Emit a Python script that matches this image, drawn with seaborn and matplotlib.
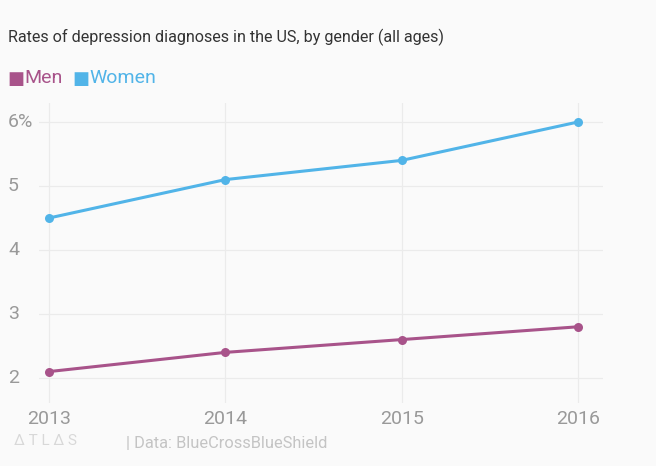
import pandas as pd
import seaborn as sns
import matplotlib.pyplot as plt
from matplotlib.transforms import blended_transform_factory

years = [2013, 2014, 2015, 2016]
men = [2.1, 2.4, 2.6, 2.8]
women = [4.5, 5.1, 5.4, 6.0]
y_ticks = [2, 3, 4, 5, 6]
y_tick_labels = ["2", "3", "4", "5", "6%"]

colors = {"Men": "#a8538a", "Women": "#51b4e8"}
bg = "#fafafa"

df = pd.concat([
    pd.DataFrame({"year": years, "rate": men, "gender": "Men"}),
    pd.DataFrame({"year": years, "rate": women, "gender": "Women"}),
])

sns.set_style("white")
plt.rcParams["font.family"] = ["Roboto", "DejaVu Sans"]

fig = plt.figure(figsize=(6.56, 4.66), dpi=100, facecolor=bg)
ax = fig.add_axes([39 / 656, 1 - 403 / 466, (603 - 39) / 656, (403 - 103) / 466])
ax.set_facecolor(bg)

sns.lineplot(data=df, x="year", y="rate", hue="gender", palette=colors,
             marker="o", markersize=6.5, markeredgewidth=0, linewidth=2.2,
             legend=False, ax=ax)

ax.set_xlim(2012.943, 2016.142)
ax.set_ylim(1.609, 6.297)
ax.set_xticks(years)
ax.set_xticklabels([str(y) for y in years])
ax.set_yticks(y_ticks)
ax.set_yticklabels([])
ax.grid(True, color="#ebebeb", linewidth=0.9)
ax.set_axisbelow(True)
for s in ax.spines.values():
    s.set_visible(False)
ax.tick_params(axis="both", length=0)
ax.tick_params(axis="x", labelsize=14, colors="#999999", pad=5)
ax.set_xlabel("")
ax.set_ylabel("")

# y labels left-aligned at the figure edge
ytrans = blended_transform_factory(fig.transFigure, ax.transData)
for v, lab in zip(y_ticks, y_tick_labels):
    ax.text(8 / 656, v, lab, transform=ytrans, ha="left", va="center",
            fontsize=14, color="#999999")

fig.text(8 / 656, 1 - 37 / 466, "Rates of depression diagnoses in the US, by gender (all ages)",
         ha="left", va="center", fontsize=11.6, color="#333333")

fig.text(7 / 656, 1 - 79 / 466, "\u25a0", ha="left", va="center", fontsize=13,
         color=colors["Men"], family="DejaVu Sans")
fig.text(24 / 656, 1 - 78 / 466, "Men", ha="left", va="center", fontsize=14, color=colors["Men"])
fig.text(72 / 656, 1 - 79 / 466, "\u25a0", ha="left", va="center", fontsize=13,
         color=colors["Women"], family="DejaVu Sans")
fig.text(89 / 656, 1 - 78 / 466, "Women", ha="left", va="center", fontsize=14, color=colors["Women"])

fig.text(14 / 656, 1 - 441 / 466, "\u0394 T L \u0394 S", ha="left", va="center", fontsize=11,
         color="#d8d8d8")
fig.text(126 / 656, 1 - 443 / 466, "| Data: BlueCrossBlueShield", ha="left", va="center",
         fontsize=11.8, color="#c4c4c4")

fig.savefig("out.png", dpi=100, facecolor=bg)
